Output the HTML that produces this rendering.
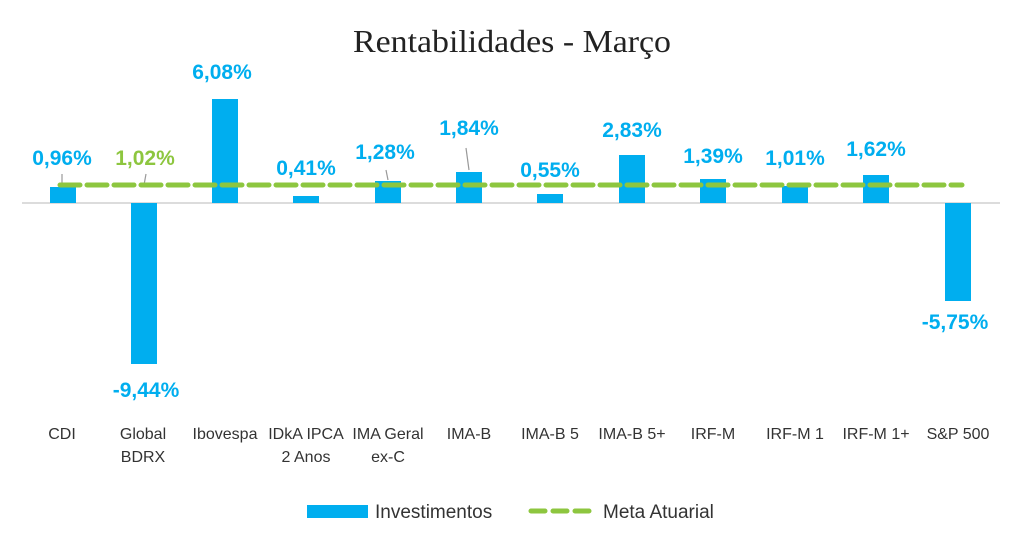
<!DOCTYPE html>
<html><head><meta charset="utf-8"><style>
html,body{margin:0;padding:0;background:#fff;width:1024px;height:552px;overflow:hidden}
svg{display:block}
.v{font-family:"Liberation Sans",sans-serif;font-weight:bold;font-size:21px;fill:#00AEEF;text-anchor:middle}
.c{font-family:"Liberation Sans",sans-serif;font-size:16px;fill:#333;text-anchor:middle}
.l{font-family:"Liberation Sans",sans-serif;font-size:19px;fill:#333}
</style></head><body>
<svg width="1024" height="552" xmlns="http://www.w3.org/2000/svg">
<text x="512" y="52" text-anchor="middle" font-family="Liberation Serif, serif" font-size="32" fill="#222" textLength="318" lengthAdjust="spacingAndGlyphs">Rentabilidades - Março</text>
<line x1="22" y1="203" x2="1000" y2="203" stroke="#d0d0d0" stroke-width="1.5"/>
<g fill="#00AEEF">
<rect x="50" y="187" width="26" height="16"/>
<rect x="131" y="203" width="26" height="161"/>
<rect x="212" y="99" width="26" height="104"/>
<rect x="293" y="196" width="26" height="7"/>
<rect x="375" y="181" width="26" height="22"/>
<rect x="456" y="172" width="26" height="31"/>
<rect x="537" y="194" width="26" height="9"/>
<rect x="619" y="155" width="26" height="48"/>
<rect x="700" y="179" width="26" height="24"/>
<rect x="782" y="186" width="26" height="17"/>
<rect x="863" y="175" width="26" height="28"/>
<rect x="945" y="203" width="26" height="98"/>
</g>
<g stroke="#999" stroke-width="1.2">
<line x1="62" y1="174" x2="62" y2="184"/>
<line x1="146" y1="174" x2="144" y2="185"/>
<line x1="466" y1="148" x2="469" y2="170"/>
<line x1="386" y1="170" x2="388" y2="180"/>
</g>
<line x1="60" y1="185" x2="962" y2="185" stroke="#8DC63F" stroke-width="5" stroke-dasharray="20 7" stroke-linecap="round"/>
<text class="v" x="62" y="165">0,96%</text>
<text class="v" x="145" y="165" style="fill:#8DC63F">1,02%</text>
<text class="v" x="222" y="79">6,08%</text>
<text class="v" x="306" y="175">0,41%</text>
<text class="v" x="385" y="159">1,28%</text>
<text class="v" x="469" y="135">1,84%</text>
<text class="v" x="550" y="177">0,55%</text>
<text class="v" x="632" y="137">2,83%</text>
<text class="v" x="713" y="163">1,39%</text>
<text class="v" x="795" y="165">1,01%</text>
<text class="v" x="876" y="156">1,62%</text>
<text class="v" x="146" y="397">-9,44%</text>
<text class="v" x="955" y="329">-5,75%</text>
<text class="c" x="62" y="439">CDI</text>
<text class="c" x="143" y="439">Global</text>
<text class="c" x="143" y="462">BDRX</text>
<text class="c" x="225" y="439">Ibovespa</text>
<text class="c" x="306" y="439">IDkA IPCA</text>
<text class="c" x="306" y="462">2 Anos</text>
<text class="c" x="388" y="439">IMA Geral</text>
<text class="c" x="388" y="462">ex-C</text>
<text class="c" x="469" y="439">IMA-B</text>
<text class="c" x="550" y="439">IMA-B 5</text>
<text class="c" x="632" y="439">IMA-B 5+</text>
<text class="c" x="713" y="439">IRF-M</text>
<text class="c" x="795" y="439">IRF-M 1</text>
<text class="c" x="876" y="439">IRF-M 1+</text>
<text class="c" x="958" y="439">S&amp;P 500</text>
<rect x="307" y="505" width="61" height="13" fill="#00AEEF"/>
<text class="l" x="375" y="518">Investimentos</text>
<line x1="531" y1="511" x2="590" y2="511" stroke="#8DC63F" stroke-width="5" stroke-dasharray="14 8" stroke-linecap="round"/>
<text class="l" x="603" y="518">Meta Atuarial</text>
</svg>
</body></html>
